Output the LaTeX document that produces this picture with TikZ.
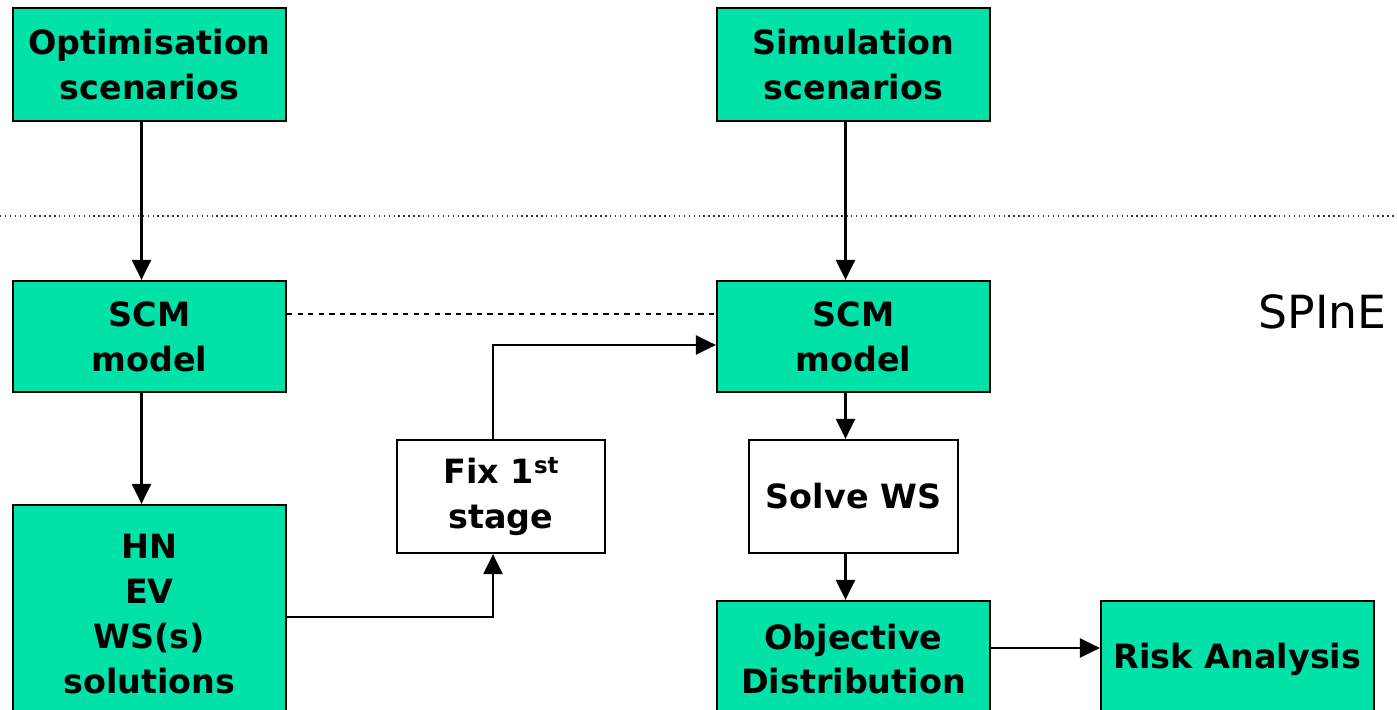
\documentclass[tikz,border=0pt]{standalone}
\usepackage{fontspec}
\setmainfont{DejaVu Sans}
\usetikzlibrary{arrows.meta}
\definecolor{boxgreen}{RGB}{0,226,168}
\tikzset{
  box/.style={draw=black, line width=1.3pt, align=center, inner sep=0pt,
    font=\fontsize{19}{25.5}\selectfont\bfseries},
  greenbox/.style={box, fill=boxgreen},
  whitebox/.style={box, fill=white},
  arr/.style={line width=1.3pt, -{Triangle[length=0.4cm,width=0.38cm]}},
}
\begin{document}
\begin{tikzpicture}[x=0.02cm,y=-0.02cm]
\path[use as bounding box, clip] (0,0) rectangle (1397,710);

% separator between scenario generation and SPInE
\draw[line width=0.8pt, dotted, black!80] (0,216) -- (1397,216);

% upper row: scenario sources
\node[greenbox, minimum width=5.46cm, minimum height=2.26cm] (opt) at (149.5,64.5) {Optimisation\\scenarios};
\node[greenbox, minimum width=5.46cm, minimum height=2.26cm] (sim) at (853.5,64.5) {Simulation\\scenarios};

% model boxes
\node[greenbox, minimum width=5.46cm, minimum height=2.22cm] (scmL) at (149.5,336.5) {SCM\\model};
\node[greenbox, minimum width=5.46cm, minimum height=2.22cm] (scmR) at (853.5,336.5) {SCM\\model};

% intermediate steps
\node[whitebox, minimum width=4.16cm, minimum height=2.26cm] (fix) at (501,496.5)
  {Fix 1\raisebox{0.55ex}{\fontsize{13}{13}\selectfont st}\\stage};
\node[whitebox, minimum width=4.18cm, minimum height=2.26cm] (solve) at (853.5,496.5) {Solve WS};

% results
\node[greenbox, minimum width=5.46cm, minimum height=4.36cm] (hn) at (149.5,614) {HN\\EV\\WS(s)\\solutions};
\node[greenbox, minimum width=5.46cm, minimum height=2.32cm] (obj) at (853.5,659) {Objective\\Distribution};
\node[greenbox, minimum width=5.46cm, minimum height=2.32cm] (risk) at (1237.5,659) {Risk Analysis};

\node[font=\fontsize{26}{30}\selectfont, anchor=east, inner sep=0pt] (spine) at (1387,312) {SPInE};

% connectors
\draw[arr] ([xshift=-0.16cm]opt.south) -- ([xshift=-0.16cm]scmL.north);
\draw[arr] ([xshift=-0.16cm]sim.south) -- ([xshift=-0.16cm]scmR.north);
\draw[arr] ([xshift=-0.16cm]scmL.south) -- ([xshift=-0.16cm]hn.north);
\draw[arr] ([xshift=-0.16cm]scmR.south) -- ([xshift=-0.16cm]solve.north);
\draw[arr] ([xshift=-0.16cm]solve.south) -- ([xshift=-0.16cm]obj.north);
\draw[arr] ([yshift=-0.06cm]hn.east) -| ([xshift=-0.16cm]fix.south);
\draw[arr] ([xshift=-0.16cm]fix.north) |- ([yshift=-0.17cm]scmR.west);
\draw[arr] ([yshift=0.22cm]obj.east) -- ([yshift=0.22cm]risk.west);
\draw[line width=1.2pt, dashed] ([yshift=0.45cm]scmL.east) -- ([yshift=0.45cm]scmR.west);
\end{tikzpicture}
\end{document}
